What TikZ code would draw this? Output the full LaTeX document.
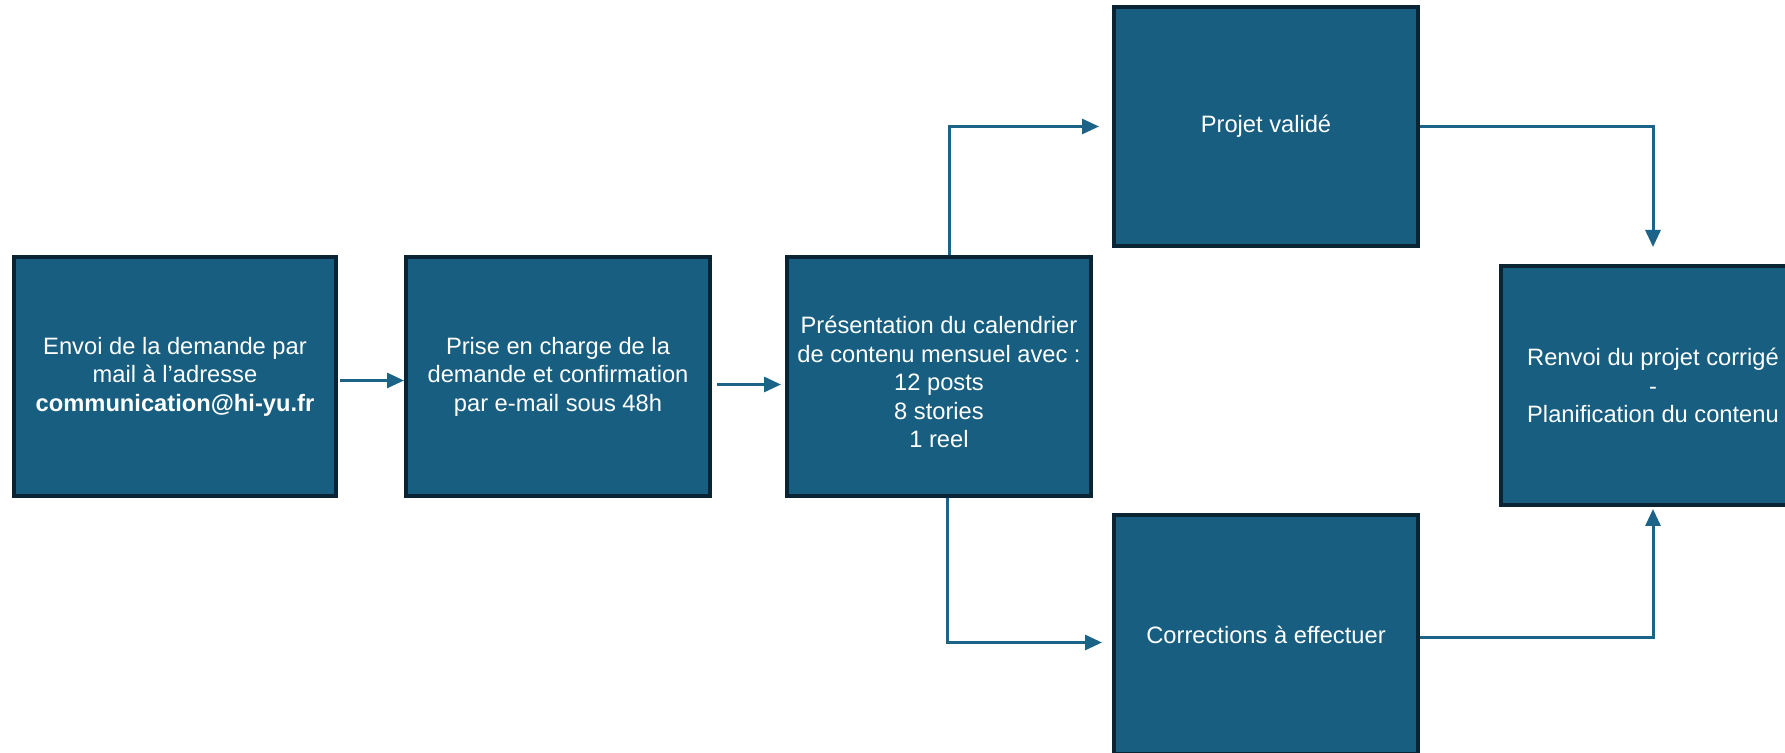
\documentclass[tikz,border=0pt]{standalone}
\usepackage{fontspec}
\setmainfont{Liberation Sans}
\usetikzlibrary{positioning,arrows.meta}
\definecolor{boxfill}{HTML}{175E80}
\definecolor{boxline}{HTML}{0B2433}
\definecolor{flowcol}{HTML}{1B6387}
\tikzset{
  etape/.style={draw=boxline,fill=boxfill,line width=2pt,text=white,align=center,
    minimum width=152pt,minimum height=119.5pt,inner sep=2pt,
    font=\fontsize{11.85}{14.25}\selectfont},
  flow/.style={draw=flowcol,line width=1.5pt,-{Triangle[length=8.5pt,width=7.5pt]}}
}
\begin{document}
\begin{tikzpicture}[x=0.5pt,y=-0.5pt]
  \useasboundingbox (0,0) rectangle (1785,753);
  \clip (0,0) rectangle (1785,753);
  \node[etape,minimum width=161pt] (envoi) at (175,376.5)
    {Envoi de la demande par\\mail à l’adresse\\\textbf{communication@hi-yu.fr}};
  \node[etape] (prise) [right=33pt of envoi]
    {Prise en charge de la\\demande et confirmation\\par e-mail sous 48h};
  \node[etape] (presentation) [right=36.5pt of prise]
    {\\Présentation du calendrier\\de contenu mensuel avec :\\12 posts\\8 stories\\1 reel};
  \node[etape] (valide) [above right=3.5pt and 9.5pt of presentation] {Projet validé};
  \node[etape] (corrections) [below right=7.5pt and 9.5pt of presentation] {Corrections à effectuer};
  \node[etape] (renvoi) [below right=8pt and 39.5pt of valide]
    {Renvoi du projet corrigé\\-\\Planification du contenu};
  % connecteurs
  \draw[flow,shorten <=1pt] ([yshift=-2pt]envoi.east) -- ([yshift=-2pt]prise.west);
  \draw[flow,shorten <=2.5pt,shorten >=2pt] ([yshift=-4pt]prise.east) -- ([yshift=-4pt]presentation.west);
  \draw[flow,shorten >=6.5pt] ([xshift=5pt]presentation.north) |- (valide.west);
  \draw[flow,shorten >=5pt] ([xshift=4pt]presentation.south) |- ([yshift=-4pt]corrections.west);
  \draw[flow,shorten >=8.5pt] (valide.east) -| (renvoi.north);
  \draw[flow,shorten >=1pt] ([yshift=-1.5pt]corrections.east) -| (renvoi.south);
\end{tikzpicture}
\end{document}
